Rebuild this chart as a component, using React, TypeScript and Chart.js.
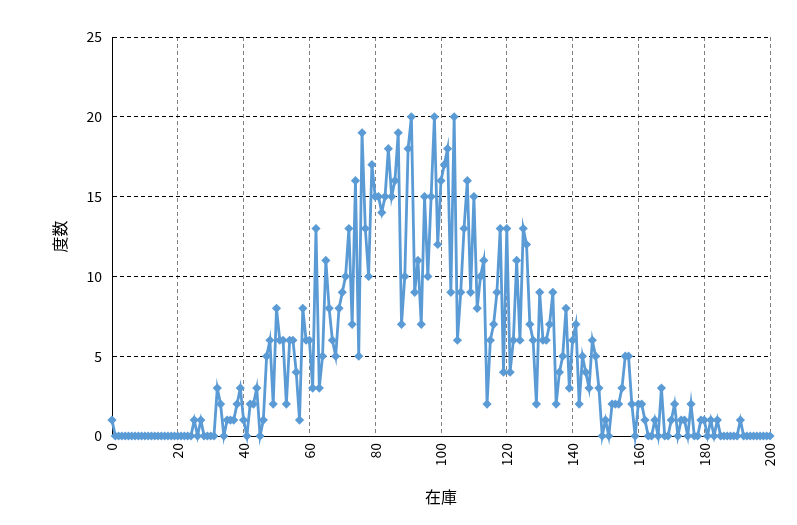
import React, { useEffect, useRef } from 'react';
import { Chart, registerables } from 'chart.js';

Chart.register(...registerables);

// 度数 (frequency) for each 在庫 (stock) level 0..200
const frequencies: number[] = [
  1,
  0, 0, 0, 0, 0, 0, 0, 0, 0, 0,
  0, 0, 0, 0, 0, 0, 0, 0, 0, 0,
  0, 0, 0, 0,
  1, 0, 1, 0, 0, 0, 0,
  3, 2, 0, 1, 1, 1, 2, 3, 1, 0,
  2, 2, 3, 0, 1, 5, 6, 2, 8, 6,
  6, 2, 6, 6, 4, 1, 8, 6, 6, 3,
  13, 3, 5, 11, 8, 6, 5, 8, 9, 10,
  13, 7, 16, 5, 19, 13, 10, 17, 15, 15,
  14, 15, 18, 15, 16, 19, 7, 10, 18, 20,
  9, 11, 7, 15, 10, 15, 20, 12, 16, 17,
  18, 9, 20, 6, 9, 13, 16, 9, 15, 8,
  10, 11, 2, 6, 7, 9, 13, 4, 13, 4,
  6, 11, 6, 13, 12, 7, 6, 2, 9, 6,
  6, 7, 9, 2, 4, 5, 8, 3, 6, 7,
  2, 5, 4, 3, 6, 5, 3, 0, 1, 0,
  2, 2, 2, 3, 5, 5, 2, 0, 2, 2,
  1, 0, 0, 1, 0, 3, 0, 0, 1, 2,
  0, 1, 1, 0, 2, 0, 0, 1, 1, 0,
  1, 0, 1, 0, 0, 0, 0, 0, 0, 1,
  0, 0, 0, 0, 0, 0, 0, 0, 0,
];

const stockLevels: number[] = frequencies.map((_, i) => i);

const xTicks: number[] = [0, 20, 40, 60, 80, 100, 120, 140, 160, 180, 200];
const yTicks: number[] = [0, 5, 10, 15, 20, 25];

const xTitle = '在庫';
const yTitle = '度数';

const FONT = "'Noto Sans CJK JP', 'Noto Sans', sans-serif";

export default function App() {
  const canvasRef = useRef<HTMLCanvasElement | null>(null);

  useEffect(() => {
    const canvas = canvasRef.current;
    if (!canvas) return;
    const drawAxes = (c: any) => {
      const { ctx, chartArea } = c;
      ctx.save();
      ctx.strokeStyle = '#000';
      ctx.lineWidth = 1;
      ctx.setLineDash([]);
      ctx.beginPath();
      ctx.moveTo(chartArea.left + 0.5, chartArea.top);
      ctx.lineTo(chartArea.left + 0.5, chartArea.bottom + 0.5);
      ctx.lineTo(chartArea.right, chartArea.bottom + 0.5);
      ctx.stroke();
      ctx.restore();
    };
    const chart = new Chart(canvas, {
      type: 'line',
      data: {
        datasets: [
          {
            data: stockLevels.map((x, i) => ({ x, y: frequencies[i] })),
            borderColor: '#5B9BD5',
            backgroundColor: '#5B9BD5',
            borderWidth: 2.8,
            pointStyle: 'rectRot',
            pointRadius: 4.6,
            pointBorderWidth: 0,
            pointBackgroundColor: '#5B9BD5',
            tension: 0,
            clip: false as any,
          },
        ],
      },
      options: {
        animation: false,
        responsive: false,
        maintainAspectRatio: false,
        layout: { padding: { left: 0, right: 27, top: 37, bottom: 0 } },
        plugins: {
          legend: { display: false },
          tooltip: { enabled: false },
        },
        scales: {
          x: {
            type: 'linear',
            min: 0,
            max: 200,
            afterBuildTicks: (scale: any) => {
              scale.ticks = xTicks.map((v) => ({ value: v }));
            },
            afterFit: (scale: any) => {
              scale.height = 89;
            },
            ticks: {
              minRotation: 90,
              maxRotation: 90,
              padding: 7,
              color: '#000',
              font: { family: FONT, size: 14 },
            },
            grid: {
              color: '#808080',
              lineWidth: 1,
              drawTicks: false,
            },
            border: { display: true, color: '#000', width: 1, dash: [4, 3] },
            title: {
              display: true,
              text: xTitle,
              color: '#000',
              font: { family: FONT, size: 16 },
              padding: { top: 0, bottom: 18 },
            },
          },
          y: {
            min: 0,
            max: 25,
            afterBuildTicks: (scale: any) => {
              scale.ticks = yTicks.map((v) => ({ value: v }));
            },
            afterFit: (scale: any) => {
              scale.width = 112;
            },
            ticks: {
              padding: 10,
              color: '#000',
              font: { family: FONT, size: 14 },
            },
            grid: {
              color: '#000',
              lineWidth: 1,
              drawTicks: false,
            },
            border: { display: true, color: '#000', width: 1, dash: [4, 3] },
            title: {
              display: true,
              text: yTitle,
              color: '#000',
              font: { family: FONT, size: 16 },
              padding: { top: 50, bottom: 0 },
            },
          },
        },
      },
      plugins: [
        {
          id: 'solidAxes',
          beforeDatasetsDraw: drawAxes,
        },
      ],
    } as any);
    return () => chart.destroy();
  }, []);

  return (
    <div style={{ position: 'absolute', left: 0, top: 0, width: 797, height: 525, background: '#fff' }}>
      <canvas ref={canvasRef} width={797} height={525} style={{ width: 797, height: 525, display: 'block' }} />
    </div>
  );
}
